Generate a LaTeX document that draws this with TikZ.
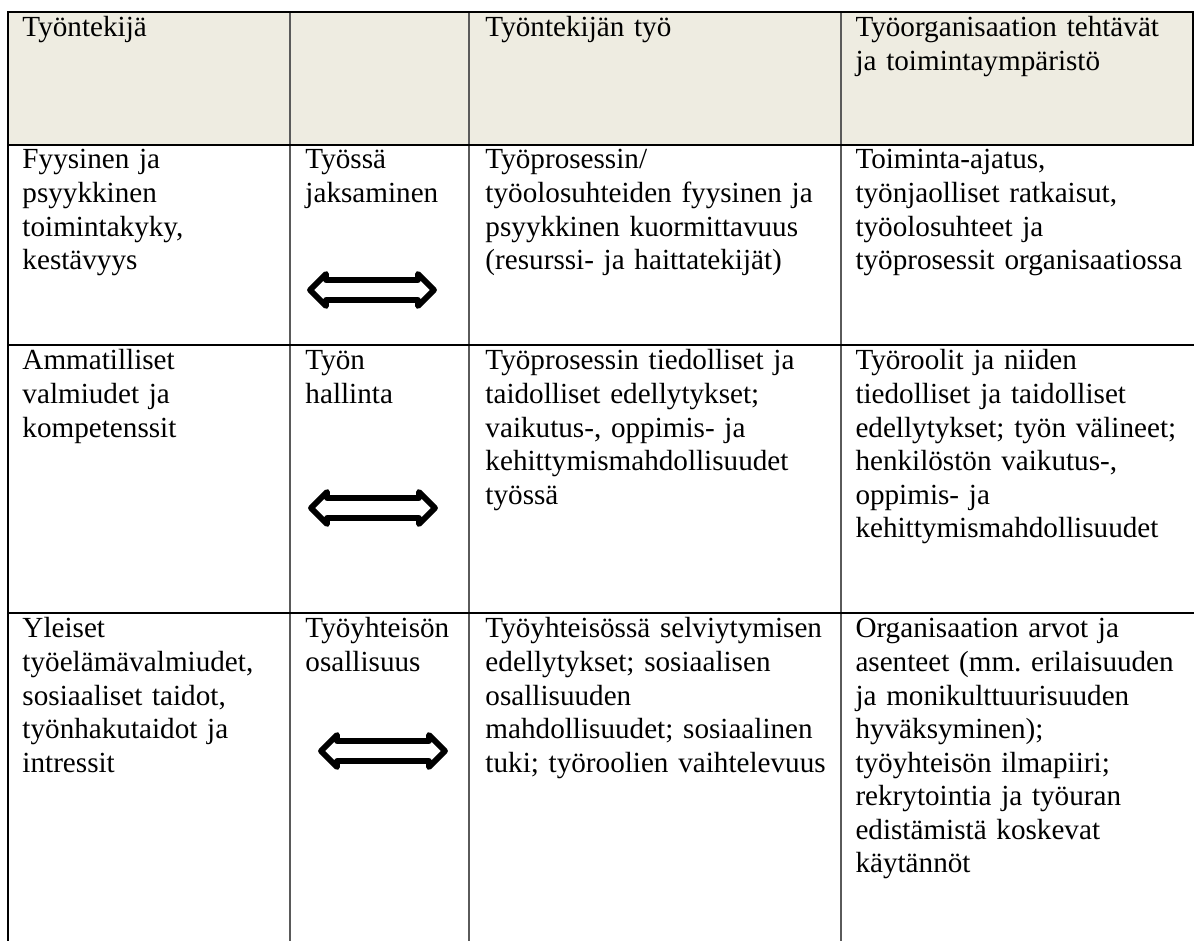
\documentclass[tikz,border=0pt]{standalone}
\usepackage{fontspec}
\setmainfont{Liberation Serif}
\usetikzlibrary{shapes.arrows}
\usepackage{xcolor}
\definecolor{headbg}{HTML}{EEECE1}
\definecolor{gridgrey}{HTML}{5A5A5A}
\frenchspacing

\begin{document}
\begin{tikzpicture}[x=0.4115pt,y=-0.4115pt,
  cell/.style={anchor=north west, inner sep=0pt, text width=150pt, align=left,
    font=\fontsize{12}{13.8}\selectfont, execute at begin node=\strut},
  bothway/.style={double arrow, draw=black, fill=white, line width=2.4pt,
    line join=round, inner xsep=0pt, inner ysep=2.9pt,
    double arrow head extend=2.5pt, minimum height=51pt}]
  \useasboundingbox (0,0) rectangle (1194,941);

  % header band and grid
  \fill[headbg] (8,12) rectangle (1193,145);
  \draw[gridgrey, line width=0.45pt] (290,12) -- (290,941) (469,12) -- (469,941) (841,12) -- (841,941);
  \draw[black, line width=0.9pt] (8,941) -- (8,12) -- (1193,12) -- (1193,145);
  \draw[black, line width=0.9pt] (8,145) -- (1194,145) (8,345) -- (1194,345) (8,613) -- (1194,613);

  % header row
  \node (hdwork) [cell] at (22,13) {Työntekijä};
  \node (hdjob)  [cell] at (485,13) {Työntekijän työ};
  \node (hdorg)  [cell] at (855,13) {Työorganisaation tehtävät\\ja toimintaympäristö};

  % row 1
  \node (fys)    [cell] at (22,145) {Fyysinen ja\\psyykkinen\\toimintakyky,\\kestävyys};
  \node (jaks)   [cell] at (305,145) {Työssä\\jaksaminen};
  \node (kuorm)  [cell] at (485,145) {Työprosessin/\\työolosuhteiden fyysinen ja\\psyykkinen kuormittavuus\\(resurssi- ja haittatekijät)};
  \node (toim)   [cell] at (855,145) {Toiminta-ajatus,\\työnjaolliset ratkaisut,\\työolosuhteet ja\\työprosessit organisaatiossa};
  \node (arrjaks) [bothway] at (372,290) {};

  % row 2
  \node (amm)    [cell] at (22,346) {Ammatilliset\\valmiudet ja\\kompetenssit};
  \node (hall)   [cell] at (305,346) {Työn\\hallinta};
  \node (tied)   [cell] at (485,346) {Työprosessin tiedolliset ja\\taidolliset edellytykset;\\vaikutus-, oppimis- ja\\kehittymismahdollisuudet\\työssä};
  \node (rool)   [cell] at (855,346) {Työroolit ja niiden\\tiedolliset ja taidolliset\\edellytykset; työn välineet;\\henkilöstön vaikutus-,\\oppimis- ja\\kehittymismahdollisuudet};
  \node (arrhall) [bothway] at (373,508) {};

  % row 3
  \node (yleis)  [cell] at (22,614) {Yleiset\\työelämävalmiudet,\\sosiaaliset taidot,\\työnhakutaidot ja\\intressit};
  \node (osall)  [cell] at (305,614) {Työyhteisön\\osallisuus};
  \node (selv)   [cell] at (485,614) {Työyhteisössä selviytymisen\\edellytykset; sosiaalisen\\osallisuuden\\mahdollisuudet; sosiaalinen\\tuki; työroolien vaihtelevuus};
  \node (arvot)  [cell] at (855,614) {Organisaation arvot ja\\asenteet (mm. erilaisuuden\\ja monikulttuurisuuden\\hyväksyminen);\\työyhteisön ilmapiiri;\\rekrytointia ja työuran\\edistämistä koskevat\\käytännöt};
  \node (arrosall) [bothway] at (383,751) {};
\end{tikzpicture}
\end{document}
